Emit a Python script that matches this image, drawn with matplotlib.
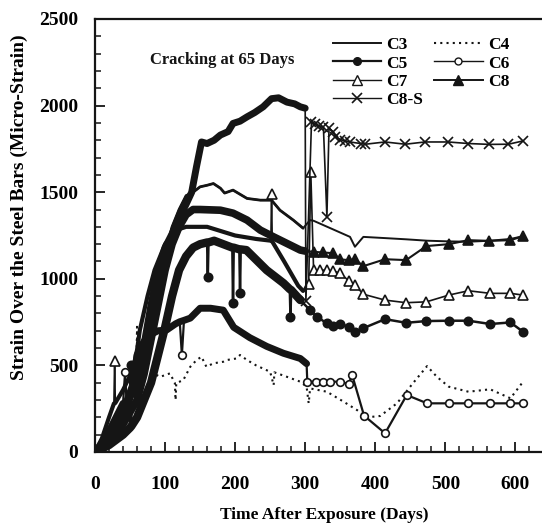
import numpy as np
import matplotlib.pyplot as plt
from matplotlib.lines import Line2D
from matplotlib.ticker import MultipleLocator

plt.rcParams['font.family'] = ['Liberation Serif', 'DejaVu Serif']
plt.rcParams['font.weight'] = 'bold'

# Datos (dias, micro-deformacion)
c3_days = [0, 20, 40, 60, 70, 80, 90, 100, 110, 120, 130, 140, 150, 160, 169, 179, 185, 197, 217, 236, 252,
           264, 283, 297, 307, 312, 364, 371, 383, 414, 444, 474, 505, 533, 564, 593, 611]
c3_vals = [0, 80, 200, 380, 550, 750, 950, 1150, 1300, 1400, 1480, 1500, 1531, 1540, 1550, 1523, 1495, 1512,
           1464, 1454, 1454, 1396, 1339, 1292, 1339, 1335, 1242, 1185, 1242, 1235, 1228, 1220, 1216, 1214,
           1220, 1230, 1246]

c4_days = [0, 20, 40, 55, 59, 60, 61, 70, 79, 93, 107, 114, 115, 116, 126, 136, 145, 152, 159, 169, 183, 188,
           202, 207, 217, 230, 250, 255, 256, 274, 293, 302, 305, 307, 331, 355, 374, 388, 407, 431, 454, 474,
           488, 505, 533, 564, 593, 611]
c4_vals = [0, 60, 180, 300, 430, 723, 430, 470, 463, 434, 454, 398, 300, 398, 415, 492, 531, 550, 492, 512,
           521, 531, 540, 560, 531, 500, 463, 386, 460, 434, 406, 377, 281, 367, 348, 290, 242, 200, 208, 281,
           398, 496, 434, 377, 348, 362, 310, 406]

c5_days = [0, 20, 40, 50, 51, 52, 60, 70, 80, 90, 100, 110, 120, 130, 140, 150, 160, 161, 162, 170, 183, 196,
           197, 198, 206, 207, 208, 216, 245, 269, 278, 279, 280, 293, 307, 317, 331, 340, 350, 362, 371, 383,
           414, 444, 473, 505, 533, 564, 593, 611]
c5_vals = [0, 40, 100, 140, 502, 150, 200, 300, 400, 560, 720, 900, 1050, 1130, 1180, 1200, 1210, 1012, 1210,
           1220, 1200, 1180, 858, 1180, 1170, 916, 1170, 1166, 1050, 975, 940, 781, 935, 877, 819, 781, 742,
           725, 739, 723, 694, 715, 767, 746, 756, 758, 758, 739, 748, 694]

c6_days = [0, 15, 30, 40, 43, 45, 55, 60, 70, 80, 90, 102, 115, 121, 124, 127, 136, 150, 165, 183, 198, 221,
           245, 269, 293, 302, 303, 315, 325, 335, 350, 362, 367, 384, 414, 445, 474, 505, 533, 564, 593, 611]
c6_vals = [0, 80, 200, 280, 463, 290, 400, 560, 640, 680, 700, 704, 740, 752, 560, 760, 773, 830, 830, 819,
           720, 660, 610, 570, 540, 510, 406, 406, 406, 406, 406, 392, 445, 210, 108, 329, 281, 281, 281, 281,
           281, 281]

c7_days = [0, 10, 20, 27, 28, 29, 40, 54, 60, 64, 75, 85, 100, 115, 130, 160, 200, 230, 251, 252, 253, 270,
           290, 297, 305, 308, 312, 321, 331, 340, 350, 362, 371, 383, 414, 444, 473, 505, 533, 564, 593, 611]
c7_vals = [0, 80, 200, 280, 527, 283, 358, 473, 589, 704, 900, 1050, 1200, 1280, 1300, 1300, 1250, 1230,
           1220, 1492, 1215, 1100, 960, 930, 970, 1617, 1050, 1050, 1050, 1045, 1032, 989, 964, 911, 877, 862,
           867, 906, 931, 916, 916, 906]

c8_days = [0, 20, 40, 60, 70, 80, 90, 100, 110, 120, 130, 140, 150, 179, 197, 217, 236, 255, 274, 293, 300,
           312, 325, 340, 350, 362, 371, 383, 414, 444, 473, 505, 533, 563, 593, 611]
c8_vals = [0, 60, 160, 300, 450, 650, 850, 1050, 1200, 1300, 1370, 1400, 1400, 1396, 1379, 1339, 1281, 1242,
           1204, 1166, 1160, 1156, 1152, 1148, 1112, 1108, 1113, 1073, 1113, 1108, 1189, 1200, 1223, 1219, 1223,
           1246]

c8s_days = [0, 15, 30, 45, 60, 70, 80, 90, 100, 110, 120, 130, 138, 145, 152, 160, 170, 179, 190, 197, 207, 217,
            228, 240, 252, 262, 274, 285, 293, 300, 301, 309, 314, 320, 326, 331, 334, 340, 343, 350, 357, 364,
            379, 386, 414, 443, 471, 504, 533, 563, 590, 611]
c8s_vals = [0, 60, 150, 260, 420, 620, 850, 1050, 1180, 1260, 1350, 1430, 1500, 1650, 1790, 1781, 1800, 1830,
            1850, 1897, 1910, 1935, 1960, 1993, 2040, 2045, 2020, 2010, 1993, 1985, 870, 1905, 1893, 1881, 1875,
            1358, 1870, 1848, 1820, 1804, 1796, 1790, 1781, 1777, 1790, 1777, 1790, 1790, 1781, 1776, 1777, 1796]

tinta = '#151515'


def picos(v):
    v = np.asarray(v, dtype=float)
    p = np.zeros(len(v), dtype=bool)
    for i in range(1, len(v) - 1):
        a = v[i] - v[i - 1]
        b = v[i] - v[i + 1]
        if abs(a) > 150 and abs(b) > 150 and a * b > 0:
            p[i] = True
    return p


def serie(d, v, marker, mfc, ms, lw_fino, lw_grueso, ls='-'):
    d = np.asarray(d, dtype=float)
    v = np.asarray(v, dtype=float)
    pk = picos(v)
    marcas = [i for i in range(len(d)) if d[i] >= 303 or pk[i]]
    if lw_grueso > 0:
        m = (d <= 302) & ~pk
        ax.plot(d[m], v[m], color=tinta, lw=lw_grueso, solid_capstyle='round', zorder=2)
    ax.plot(d, v, color=tinta, lw=lw_fino, ls=ls, marker=marker, ms=ms, mfc=mfc, mec=tinta,
            mew=1.2, markevery=marcas if marker else None, zorder=3)


fig = plt.figure(figsize=(5.42, 5.26), dpi=100)
ax = fig.add_axes([95 / 542, 74 / 526, 447 / 542, 433 / 526])

serie(c4_days, c4_vals, None, 'none', 0, 1.5, 0, ls=(0, (1, 2)))
serie(c3_days, c3_vals, None, 'none', 0, 1.4, 2.0)
serie(c6_days, c6_vals, 'o', 'white', 5.5, 1.6, 5.0)
serie(c5_days, c5_vals, 'o', tinta, 6, 1.8, 6.0)
serie(c7_days, c7_vals, '^', 'white', 7, 1.2, 3.0)
serie(c8_days, c8_vals, '^', tinta, 7, 1.5, 5.5)
serie(c8s_days, c8s_vals, 'x', 'none', 7, 1.2, 5.0)

ax.set_xlim(0, 638)
ax.set_ylim(0, 2500)
ax.xaxis.set_major_locator(MultipleLocator(100))
ax.xaxis.set_minor_locator(MultipleLocator(20))
ax.yaxis.set_major_locator(MultipleLocator(500))
ax.yaxis.set_minor_locator(MultipleLocator(100))
ax.tick_params(which='major', direction='in', length=7, width=1.3, labelsize=14, color=tinta)
ax.tick_params(which='minor', direction='in', length=4.5, width=1.1, color=tinta)
ax.tick_params(axis='x', which='major', pad=17)
ax.tick_params(axis='y', which='major', pad=12)
for lab in ax.get_xticklabels() + ax.get_yticklabels():
    lab.set_fontweight('bold')
ax.spines['right'].set_visible(False)
for s in ['left', 'bottom', 'top']:
    ax.spines[s].set_linewidth(1.6)
    ax.spines[s].set_color(tinta)

ax.set_xlabel('Time After Exposure (Days)', fontsize=12.5, fontweight='bold')
ax.xaxis.set_label_coords(0.512, -0.128)
ax.set_ylabel('Strain Over the Steel Bars (Micro-Strain)', fontsize=14, fontweight='bold')
ax.yaxis.set_label_coords(-0.15, 0.566)

ax.text(0.284, 0.905, 'Cracking at 65 Days', transform=ax.transAxes, ha='center', va='center',
        fontsize=12, fontweight='bold', color=tinta)

h = [Line2D([], [], color=tinta, lw=1.4),
     Line2D([], [], color=tinta, lw=1.6, marker='o', ms=5.5, mfc=tinta, mec=tinta),
     Line2D([], [], color=tinta, lw=1.0, marker='^', ms=6.5, mfc='white', mec=tinta),
     Line2D([], [], color=tinta, lw=1.0, marker='x', ms=7, mec=tinta, mew=1.2),
     Line2D([], [], color=tinta, lw=1.5, ls=(0, (1, 2))),
     Line2D([], [], color=tinta, lw=1.0, marker='o', ms=5, mfc='white', mec=tinta),
     Line2D([], [], color=tinta, lw=1.4, marker='^', ms=6.5, mfc=tinta, mec=tinta)]
etiquetas = ['C3', 'C5', 'C7', 'C8-S', 'C4', 'C6', 'C8']
leg = ax.legend(h, etiquetas, ncol=2, loc='upper left', bbox_to_anchor=(0.532, 0.958), frameon=False,
                borderpad=0, borderaxespad=0, handlelength=2.8, handletextpad=0.3, columnspacing=0.6,
                labelspacing=0.12, prop={'size': 12.5, 'weight': 'bold'})

plt.savefig('out.png', dpi=100)
